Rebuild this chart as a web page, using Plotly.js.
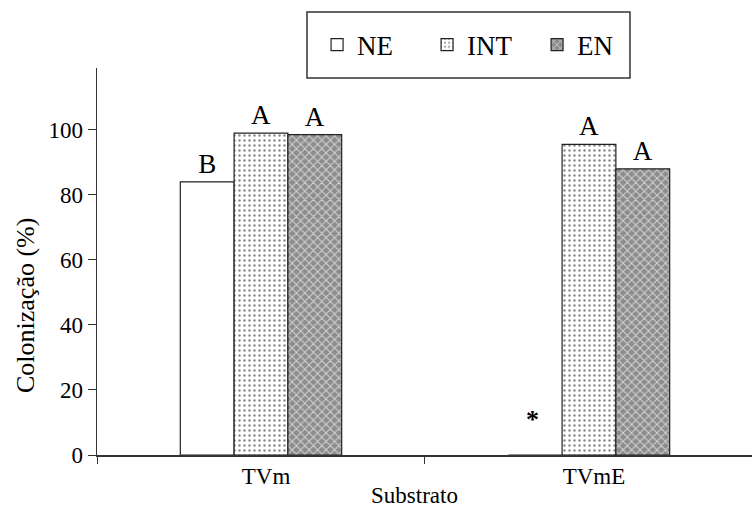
<!DOCTYPE html>
<html><head><meta charset="utf-8">
<script src="https://cdn.plot.ly/plotly-3.0.1.min.js"></script>
<style>html,body{margin:0;padding:0;background:#fff}</style>
</head><body><div id="chart" style="width:752px;height:511px"></div>
<script>
const categories = ["TVm", "TVmE"];
const valuesNE  = [84, 0];
const valuesINT = [99, 95.5];
const valuesEN  = [98.5, 88];
const lettersNE  = ["B", ""];
const lettersINT = ["A", "A"];
const lettersEN  = ["A", "A"];
const yTicks = [0, 20, 40, 60, 80, 100];
const yTitle = "Colonização (%)";
const xTitle = "Substrato";

const serif = "Liberation Serif";
const line = {color: "#222", width: 1.2};
function bar(name, vals, letters, pattern, color) {
  return {
    type: "bar", name: name, x: categories, y: vals,
    text: letters, textposition: "outside", cliponaxis: false,
    textfont: {family: serif, size: 27, color: "#000"},
    marker: {color: color, line: line, pattern: pattern}
  };
}
const traces = [
  bar("NE", valuesNE, lettersNE, {shape: ""}, "#ffffff"),
  bar("INT", valuesINT, lettersINT, {shape: ".", fgcolor: "#888", bgcolor: "#fff", size: 5, solidity: 0.18}, "#ffffff"),
  bar("EN", valuesEN, lettersEN, {shape: "x", fgcolor: "#d4d4d4", bgcolor: "#8c8c8c", size: 6, solidity: 0.3}, "#8c8c8c")
];

const layout = {
  width: 752, height: 511,
  margin: {l: 97, r: 0, t: 68, b: 56},
  paper_bgcolor: "#fff", plot_bgcolor: "#fff",
  font: {family: serif, color: "#000", size: 22},
  barmode: "group", bargap: 0.508, bargroupgap: 0,
  showlegend: true,
  legend: {
    orientation: "h", x: 0.336, y: 1.059, xanchor: "left", yanchor: "middle",
    borderwidth: 0, bgcolor: "rgba(0,0,0,0)",
    font: {family: serif, size: 27},
    entrywidth: 65, itemwidth: 30,
    traceorder: "normal"
  },
  xaxis: {
    type: "category", range: [-0.5, 1.497],
    showline: true, linecolor: "#333", linewidth: 1.5,
    ticks: "outside", tickson: "boundaries", ticklen: 7, tickcolor: "#333",
    ticklabelshift: 5,
    tickfont: {family: serif, size: 23},
    showgrid: false, zeroline: false
  },
  yaxis: {
    range: [0, 119], tickvals: yTicks,
    showline: true, linecolor: "#333", linewidth: 1.5,
    ticks: "outside", ticklen: 8, tickcolor: "#333",
    tickfont: {family: serif, size: 23},
    showgrid: false, zeroline: false
  },
  shapes: [{
    type: "rect", xref: "paper", yref: "paper",
    x0: 0.3206, x1: 0.8137, y0: 0.974, y1: 1.1447,
    line: {color: "#333", width: 1.5}
  }],
  annotations: [
    {x: 1, y: 11, xref: "x", yref: "y", text: "<b>*</b>", showarrow: false,
     xshift: -56, font: {family: serif, size: 26, color: "#000"}},
    {x: 0, y: 0.385, xref: "paper", yref: "paper", text: yTitle, showarrow: false,
     textangle: -90, xshift: -72, xanchor: "center", yanchor: "middle",
     font: {family: serif, size: 26, color: "#000"}},
    {x: 0, y: 0, xref: "paper", yref: "paper", text: xTitle, showarrow: false,
     xshift: 317, yshift: -40, xanchor: "center", yanchor: "middle",
     font: {family: serif, size: 23, color: "#000"}}
  ]
};
Plotly.newPlot("chart", traces, layout, {staticPlot: true});
</script></body></html>
